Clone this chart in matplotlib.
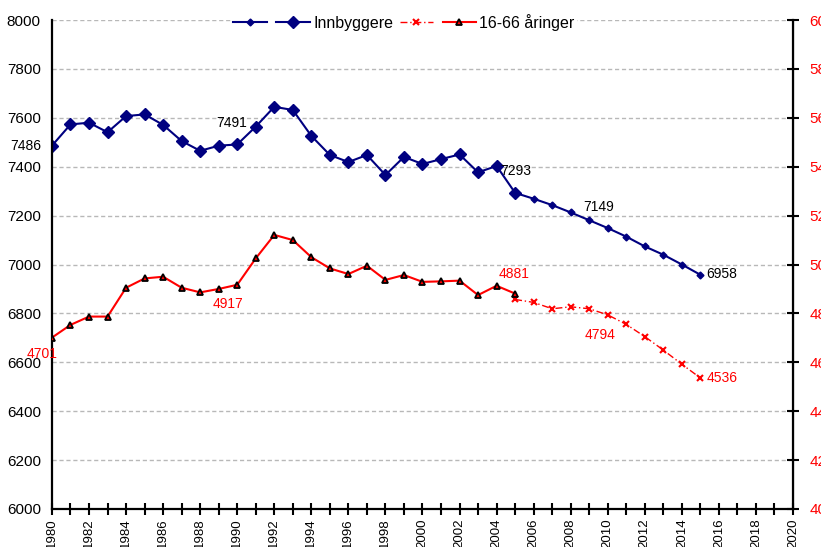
import numpy as np
import matplotlib.pyplot as plt

plt.rcParams['font.family'] = ['Liberation Sans', 'DejaVu Sans']

# Innbyggere, registrert (1980-2005) og framskrevet (2005-2015)
aar_hist = list(range(1980, 2006))
innb_hist = [7486, 7573, 7580, 7541, 7607, 7614, 7571, 7505, 7465, 7486,
             7491, 7564, 7645, 7632, 7526, 7448, 7419, 7448, 7366, 7440,
             7411, 7431, 7450, 7377, 7403, 7293]
aar_fram = list(range(2005, 2016))
innb_fram = [7293, 7269, 7243, 7213, 7181, 7149, 7114, 7074, 7040, 7000, 6958]

# 16-66 aaringer
arb_hist = [4701, 4753, 4787, 4787, 4905, 4943, 4950, 4905, 4886, 4900,
            4917, 5025, 5121, 5100, 5030, 4984, 4961, 4995, 4937, 4957,
            4929, 4931, 4934, 4875, 4913, 4881]
arb_fram = [4857, 4845, 4819, 4827, 4819, 4794, 4755, 4705, 4650, 4592, 4536]

fig = plt.figure(figsize=(8.21, 5.47), dpi=100)
ax = fig.add_axes([0.0633, 0.0695, 0.9026, 0.8939])
ax2 = ax.twinx()

navy = '#000080'
l1, = ax.plot(aar_fram, innb_fram, color=navy, lw=1.5, marker='D', ms=3.5)
l2, = ax.plot(aar_hist, innb_hist, color=navy, lw=1.5, marker='D', ms=6)
l3, = ax2.plot(aar_fram, arb_fram, color='red', lw=1, ls=(0, (5, 2, 1, 2)),
               marker='x', ms=4, mew=1.5)
l4, = ax2.plot(aar_hist, arb_hist, color='red', lw=1.5, marker='^', ms=5,
               mfc='red', mec='black', mew=1.3)

ax.set_xlim(1980, 2020)
ax.set_ylim(6000, 8000)
ax2.set_ylim(4000, 6000)
ax.set_yticks(np.arange(6000, 8001, 200))
ax2.set_yticks(np.arange(4000, 6001, 200))
ax.set_xticks(np.arange(1980, 2021, 2))
ax.set_xticks(np.arange(1980, 2021, 1), minor=True)
ax.set_xticklabels([str(y) for y in range(1980, 2021, 2)], rotation=90, fontsize=9.5)

ax.grid(axis='y', color='#b8b8b8', ls=(0, (3, 2)), lw=1)
ax.set_axisbelow(True)
for sp in ['left', 'bottom']:
    ax.spines[sp].set_linewidth(1.6)
ax.spines['top'].set_visible(False)
ax2.spines['top'].set_visible(False)
ax2.spines['right'].set_linewidth(1.6)
ax2.spines['left'].set_visible(False)
ax2.spines['bottom'].set_visible(False)

ax.tick_params(axis='y', length=0, labelsize=11, pad=8)
ax.tick_params(axis='x', which='both', direction='inout', length=8, width=1.5, pad=3)
ax2.tick_params(axis='y', direction='inout', length=8, width=1.5, labelsize=11,
                labelcolor='red', pad=8)

# dataetiketter
ax.text(1979.4, 7486, '7486', ha='right', va='center', fontsize=10)
ax.text(1989.7, 7580, '7491', ha='center', va='center', fontsize=10)
ax.text(2004.2, 7384, '7293', ha='left', va='center', fontsize=10)
ax.text(2009.5, 7236, '7149', ha='center', va='center', fontsize=10)
ax.text(2015.3, 6960, '6958', ha='left', va='center', fontsize=10)
ax2.text(2004.1, 4960, '4881', ha='left', va='center', fontsize=10, color='red')
ax2.text(1989.5, 4837, '4917', ha='center', va='center', fontsize=10, color='red')
ax2.text(1978.65, 4634, '4701', ha='left', va='center', fontsize=10, color='red')
ax2.text(2009.6, 4712, '4794', ha='center', va='center', fontsize=10, color='red')
ax2.text(2015.35, 4535, '4536', ha='left', va='center', fontsize=10, color='red')

leg = ax2.legend([l1, l2, l3, l4], ['', 'Innbyggere', '', '16-66 åringer'],
                 loc='center', bbox_to_anchor=(0.475, 0.995), ncol=4,
                 frameon=True, fontsize=11.5, handlelength=2.1,
                 handletextpad=0.2, columnspacing=0.4, borderpad=0.1,
                 borderaxespad=0)
leg.get_frame().set_facecolor('white')
leg.get_frame().set_edgecolor('white')
leg.get_frame().set_alpha(1)

fig.savefig('out.png', dpi=100)
